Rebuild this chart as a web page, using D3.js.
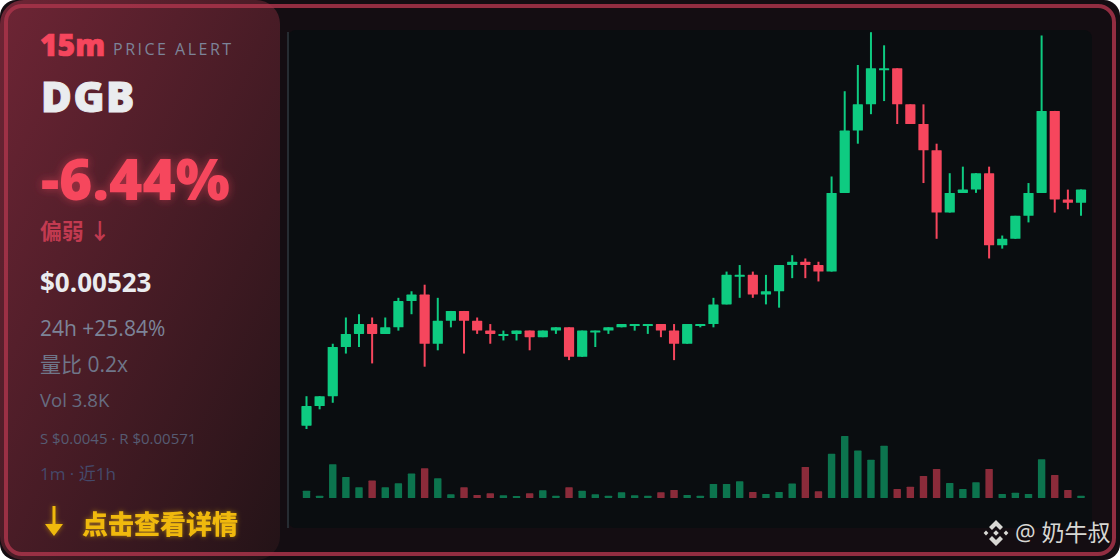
<!DOCTYPE html>
<html><head><meta charset="utf-8">
<script src="https://cdn.jsdelivr.net/npm/d3@7/dist/d3.min.js"></script>
<style>
html,body{margin:0;padding:0;background:#fff;width:1120px;height:560px;overflow:hidden}
svg{display:block}
text{font-family:"Open Sans","Noto Sans CJK SC",sans-serif}
</style></head><body><svg id="c" width="1120" height="560"></svg>
<script>
const opens =[451,457,460,475,479,482,479,481,489,491,476,483,486,483,480,479,479,480,478,480,481,472,480,480,481,482,482,482,480,476,482,482,488,497,497,491,492,500,501,500,498,522,541,549,560,560,549,543,535,516,522,523,528,506,508,515,522,547,520,519];
const closes=[457,460,475,479,482,479,481,489,491,476,483,486,483,480,479,479,480,478,480,481,472,480,480,481,482,482,482,480,476,482,482,488,497,497,491,492,500,501,500,498,522,541,549,560,560,549,543,535,516,522,523,528,506,508,515,522,547,520,519,523];
const highs =[460,460,476,484,485,484,484,490,492,494,490,486,486,484,482,480,480,480,480,481,481,480,480,481,482,482,482,482,482,482,482,490,498,500,498,497,500,503,502,501,527,553,561,571,567,560,549,549,537,528,530,528,530,509,515,525,570,547,523,523];
const lows  =[450,456,458,473,475,470,479,480,485,469,474,481,473,479,476,477,477,474,478,479,471,472,475,479,481,480,479,478,471,476,481,481,488,490,490,488,487,496,496,495,498,522,537,546,550,543,543,525,508,516,522,522,502,505,508,513,522,516,517,515];
const volumes=[12,3.8,55.5,34.6,17.6,28.6,17.6,24.2,40.2,48.9,32.4,6,17.6,5,7.7,4.4,3.3,7.7,12.7,3.8,17.6,12,6,3.8,9.4,4.4,3.8,9.4,13.2,5,3.8,23.1,23.1,27.5,9.9,6.6,9.9,23.7,51,11,72.6,102,78,63,86,14.9,18.7,36.3,47.9,24.8,14.9,25.9,47.9,6.6,8.8,6.6,63.8,38,13.2,3.8];
const sideLines=[["24h +25.84%",336,21,"#7c8498"],["量比 0.2x",372,21,"#6f7689"],["Vol 3.8K",407,18.6,"#666c80"],["S $0.0045 · R $0.00571",444,15,"#565b72"],["1m · 近1h",480,17,"#45496a"]];

const UP="#0ecb81",DOWN="#f6465d";
const svg=d3.select("#c");
const defs=svg.append("defs");
const lg=defs.append("linearGradient").attr("id","panel").attr("x1",0).attr("y1",0).attr("x2",1).attr("y2",1);
lg.append("stop").attr("offset",0).attr("stop-color","#6e2535");
lg.append("stop").attr("offset",1).attr("stop-color","#231317");
defs.append("clipPath").attr("id","card").append("rect").attr("width",1120).attr("height",560).attr("rx",16);
function glow(id,s,c,o){const f=defs.append("filter").attr("id",id).attr("x","-30%").attr("y","-60%").attr("width","160%").attr("height","220%");
 f.append("feDropShadow").attr("dx",0).attr("dy",0).attr("stdDeviation",s).attr("flood-color",c).attr("flood-opacity",o);}
glow("g1",5,"#f6465d",.5);glow("g2",2.5,"#f0b90b",.55);

const card=svg.append("g").attr("clip-path","url(#card)");
card.append("rect").attr("width",1120).attr("height",560).attr("fill","#140d12");
card.append("rect").attr("x",288).attr("y",30).attr("width",804).attr("height",498).attr("rx",8).attr("fill","#0a0d10");
card.append("line").attr("x1",288).attr("x2",288).attr("y1",32).attr("y2",528).attr("stroke","#262c32").attr("stroke-width",2);
card.append("rect").attr("x",0).attr("y",0).attr("width",280).attr("height",560).attr("rx",24).attr("fill","url(#panel)");
card.append("rect").attr("x",6).attr("y",6).attr("width",1108).attr("height",548).attr("rx",16).attr("fill","none").attr("stroke","#a8344a").attr("stroke-opacity",.85).attr("stroke-width",4);

const idx=d3.range(opens.length);
const x=d3.scaleLinear().domain([0,opens.length-1]).range([306.5,1081]);
const y=d3.scaleLinear().domain([450,571]).range([429,32.2]);
const yv=d3.scaleLinear().domain([0,102]).range([498,436]);
const col=i=>closes[i]>=opens[i]?UP:DOWN;
const W=10.2;
const g=svg.append("g");
g.selectAll("line.w").data(idx).join("line").attr("class","w")
 .attr("x1",i=>x(i)).attr("x2",i=>x(i)).attr("y1",i=>y(highs[i])).attr("y2",i=>y(lows[i]))
 .attr("stroke",col).attr("stroke-width",2);
g.selectAll("rect.b").data(idx).join("rect").attr("class","b")
 .attr("x",i=>x(i)-W/2).attr("width",W).attr("rx",.6)
 .attr("y",i=>y(Math.max(opens[i],closes[i])))
 .attr("height",i=>Math.max(2,Math.abs(y(opens[i])-y(closes[i]))))
 .attr("fill",col);
g.selectAll("rect.v").data(idx).join("rect").attr("class","v")
 .attr("x",i=>x(i)-3.7).attr("width",7.4).attr("rx",.6)
 .attr("y",i=>yv(volumes[i])).attr("height",i=>498-yv(volumes[i]))
 .attr("fill",col).attr("fill-opacity",.55);

function T(s,px,py,size,fill,w,extra){const t=svg.append("text").attr("x",px).attr("y",py).attr("font-size",size).attr("fill",fill).attr("font-weight",w||400).text(s);if(extra)extra(t);return t;}
const bold=(c,n)=>t=>t.attr("stroke",c).attr("stroke-width",n);
T("15m",40,55.5,30,"#f6465d",800,bold("#f6465d",.7));
T("PRICE ALERT",113,55,16,"#7c8498",400,t=>t.style("letter-spacing","2.5px"));
T("DGB",41,111.5,42,"#eaecef",800,t=>{bold("#eaecef",1)(t);t.style("letter-spacing","1.6px");});
T("-6.44%",41,200,57,"#f6465d",800,t=>t.attr("filter","url(#g1)"));
T("偏弱 ↓",40,239,22,"#c23a50",700,t=>t.style("letter-spacing","-0.3px"));
T("$0.00523",40,292,26,"#eaecef",700);
sideLines.forEach(d=>T(d[0],40,d[1],d[2],d[3],400));
T("点击查看详情",82,534,26,"#f0b90b",900,t=>t.attr("filter","url(#g2)"));
svg.append("path").attr("d",d3.line()([[52.5,506],[55.5,506],[55.5,524],[63,524],[54,536],[45,524],[52.5,524]])).attr("fill","#f0b90b").attr("filter","url(#g2)");

const wm=svg.append("g").attr("fill","#d8d8d4");
const dia=(cx,cy,r)=>wm.append("path").attr("d",d3.line()([[cx,cy-r],[cx+r,cy],[cx,cy+r],[cx-r,cy]]));
dia(986,533,2.4);dia(1006,533,2.4);dia(996,533,2.8);
wm.append("path").attr("d",d3.line()([[996,520],[1003,527],[1000,530],[996,526],[992,530],[989,527]]));
wm.append("path").attr("d",d3.line()([[996,546],[1003,539],[1000,536],[996,540],[992,536],[989,539]]));
T("@ 奶牛叔",1015,541,23,"#d8d8d4",400);
</script></body></html>
